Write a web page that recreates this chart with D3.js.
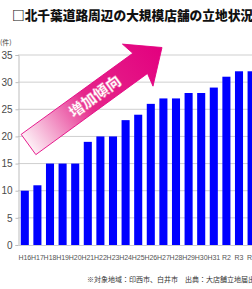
<!DOCTYPE html>
<html lang="ja">
<head>
<meta charset="UTF-8">
<title>北千葉道路周辺の大規模店舗の立地状況</title>
<style>
  body { margin: 0; background: #fff; }
  svg { display: block; }
  text { font-family: "Noto Sans CJK JP", "Liberation Sans", sans-serif; }
  .tick-y { font-family: "Liberation Sans", sans-serif; font-size: 10px; fill: #4a4a4a; }
  .tick-x { font-family: "Liberation Sans", sans-serif; font-size: 7px; fill: #555; }
</style>
</head>
<body>
<svg id="chart"></svg>
<script src="https://d3js.org/d3.v7.min.js"></script>
<script>
// data
const years = ["H16","H17","H18","H19","H20","H21","H22","H23","H24","H25",
  "H26","H27","H28","H29","H30","H31","R2","R3","R4"];
const stores = [10,11,15,15,15,19,20,20,23,24,26,27,27,28,28,29,31,32,32];
const yTicks = [0,5,10,15,20,25,30,35];

const W = 252, H = 289;
const svg = d3.select("#chart").attr("width", W).attr("height", H);

const x = d3.scaleBand().domain(years).range([18.5, 257.9])
  .paddingInner(0.36).paddingOuter(0.18);
const y = d3.scaleLinear().domain([0, 35]).range([245, 55]);

// title
svg.append("text").attr("x", 12).attr("y", 20)
  .attr("font-size", 12.7).attr("font-weight", 900).attr("fill", "#111")
  .text("□北千葉道路周辺の大規模店舗の立地状況");

svg.append("text").attr("x", 0).attr("y", 45)
  .attr("font-size", 7).attr("fill", "#444").text("(件)");

// grid
svg.append("g").selectAll("line").data(yTicks.filter(d => d > 0)).join("line")
  .attr("x1", 18).attr("x2", W)
  .attr("y1", d => y(d)).attr("y2", d => y(d))
  .attr("stroke", "#cfcfcf").attr("stroke-width", 1);

// y axis
const yAxis = svg.append("g").attr("transform", "translate(18.5,0)")
  .call(d3.axisLeft(y).tickValues(yTicks).tickSize(3).tickPadding(3));
yAxis.select(".domain").attr("stroke", "#bdbdbd");
yAxis.selectAll(".tick line").attr("stroke", "#bdbdbd");
yAxis.selectAll(".tick text").attr("class", "tick-y").attr("fill", "#4a4a4a");
yAxis.attr("font-family", null).attr("font-size", null);

// bars
svg.append("g").selectAll("rect").data(stores).join("rect")
  .attr("x", (d, i) => x(years[i]))
  .attr("y", d => y(d))
  .attr("width", x.bandwidth())
  .attr("height", d => y(0) - y(d))
  .attr("fill", "#0000ff");

// baseline
svg.append("line").attr("x1", 18).attr("x2", W)
  .attr("y1", y(0) + 0.5).attr("y2", y(0) + 0.5).attr("stroke", "#cfcfcf");

// x labels
svg.append("g").selectAll("text").data(years).join("text")
  .attr("class", "tick-x")
  .attr("x", d => x(d) + x.bandwidth() / 2)
  .attr("y", 260)
  .attr("text-anchor", "middle")
  .text(d => d);

// arrow (increase trend)
const defs = svg.append("defs");
const grad = defs.append("linearGradient").attr("id", "pink")
  .attr("x1", "0%").attr("x2", "100%").attr("y1", "0%").attr("y2", "0%");
grad.append("stop").attr("offset", "0%").attr("stop-color", "#fdf0f6");
grad.append("stop").attr("offset", "45%").attr("stop-color", "#e5258a");
grad.append("stop").attr("offset", "100%").attr("stop-color", "#e3007f");

const len = 165, bw = 12.5, hw = 26, hl = 27;
const arrow = svg.append("g")
  .attr("transform", "translate(28.5,144.5) rotate(-36)");
arrow.append("path")
  .attr("d", `M0,${-bw} L${len - hl},${-bw} L${len - hl - 3},${-hw} L${len},0 L${len - hl - 3},${hw} L${len - hl},${bw} L0,${bw} Z`)
  .attr("fill", "url(#pink)").attr("stroke", "#e3007f").attr("stroke-width", 0.8);
arrow.append("text")
  .attr("x", 82).attr("y", 5.5)
  .attr("text-anchor", "middle")
  .attr("font-size", 15).attr("font-weight", 900)
  .attr("fill", "#fff").attr("stroke", "#f06aa8").attr("stroke-width", 0.4)
  .text("増加傾向");

// footnote
svg.append("text").attr("x", 87).attr("y", 282)
  .attr("font-size", 7).attr("fill", "#333")
  .text("※対象地域：印西市、白井市　出典：大店舗立地届出数");
</script>
</body>
</html>
